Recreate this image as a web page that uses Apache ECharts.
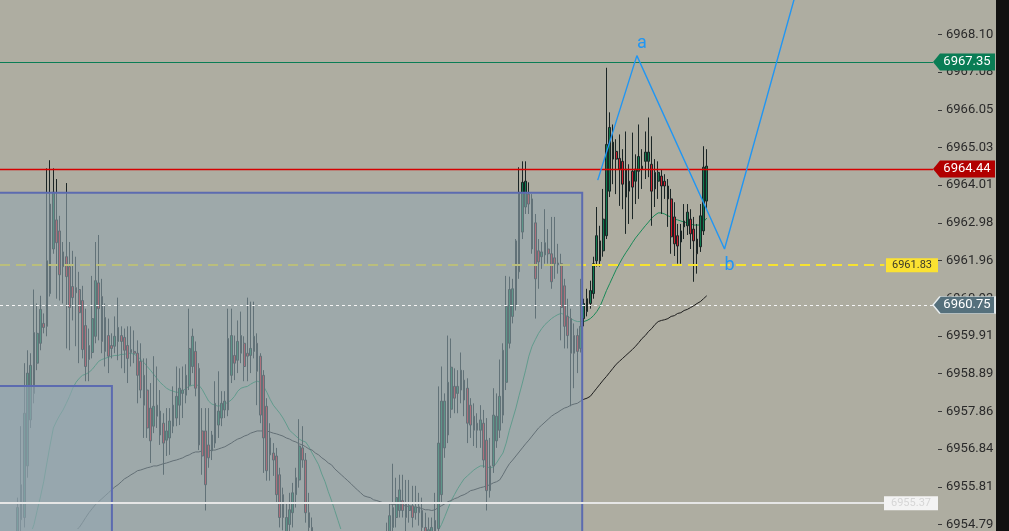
<!DOCTYPE html>
<html>
<head>
<meta charset="utf-8">
<title>Chart</title>
<script src="https://cdn.jsdelivr.net/npm/echarts@6.0.0/dist/echarts.min.js"></script>
<style>
html,body{margin:0;padding:0;background:#aeada1;overflow:hidden;}
#chart{width:1009px;height:531px;}
</style>
</head>
<body>
<div id="chart"></div>
<script>
const firstBar = 5;
const barCount = 290;
const opens = [
6953.90,6954.92,6954.98,6956.38,6957.63,6958.35,6959.17,6959.71,6960.25,6960.17,
6961.06,6962.27,6963.06,6962.76,6962.19,6962.06,6961.79,6961.25,6961.08,6961.17,
6960.87,6960.19,6959.65,6959.46,6959.90,6961.35,6960.98,6960.41,6959.92,6959.65,
6959.63,6959.76,6959.92,6959.87,6959.65,6959.46,6959.49,6959.44,6959.22,6958.84,
6958.44,6957.95,6957.46,6958.03,6957.87,6957.54,6957.08,6957.14,6957.46,6957.68,
6958.03,6958.35,6958.30,6958.57,6959.08,6959.49,6959.03,6957.33,6957.33,6956.95,
6956.79,6957.00,6957.49,6957.68,6957.90,6957.90,6958.84,6959.38,6959.25,6959.44,
6959.71,6959.44,6959.38,6959.49,6959.71,6959.36,6958.84,6958.00,6957.14,6956.73,
6956.65,6956.14,6955.60,6954.57,6954.79,6955.11,6955.60,6956.00,6956.87,6956.54,
6955.11,6954.71,6953.90,6953.57,6953.35,6953.62,6953.22,6953.49,6953.14,6953.57,
6953.84,6953.49,6953.76,6954.03,6953.68,6954.03,6954.22,6953.90,6954.17,6954.30,
6954.03,6954.30,6954.44,6954.17,6953.90,6954.44,6954.71,6954.98,6955.17,6955.44,
6955.38,6955.17,6955.30,6955.11,6955.27,6955.17,6954.71,6954.30,6954.30,6954.57,
6954.68,6955.60,6956.87,6957.22,6957.92,6958.54,6958.35,6958.44,6958.71,6958.49,
6958.03,6957.73,6957.54,6957.35,6957.54,6957.08,6955.71,6956.38,6957.06,6957.35,
6957.76,6958.65,6959.71,6960.44,6960.73,6961.65,6962.73,6963.41,6963.76,6963.63,
6962.98,6962.22,6962.06,6962.11,6962.27,6962.14,6962.03,6961.84,6961.87,6961.27,
6960.44,6960.38,6959.92,6959.92,6959.57,6960.38,6960.57,6960.79,6961.06,6961.95,
6961.95,6962.22,6962.63,6963.84,6964.71,6964.92,6964.73,6964.65,6964.44,6964.11,
6964.38,6964.11,6964.38,6964.52,6964.65,6964.65,6964.57,6964.35,6964.11,6964.25,
6964.11,6963.98,6963.63,6963.14,6962.63,6962.46,6962.87,6962.90,6963.08,6962.81,
6962.54,6962.33,6962.76,6963.57];
const closes = [
6955.25,6955.87,6957.81,6958.90,6959.11,6960.00,6959.98,6960.63,6960.14,6961.95,
6963.49,6963.81,6962.44,6961.57,6961.79,6961.52,6960.68,6960.95,6961.22,6960.54,
6959.54,6959.08,6959.27,6960.38,6961.41,6960.65,6959.76,6959.49,6959.36,6959.57,
6959.90,6960.14,6959.76,6959.52,6959.30,6959.54,6959.44,6958.84,6958.44,6958.03,
6957.41,6957.06,6958.00,6957.73,6957.22,6957.00,6957.33,6957.60,6958.03,6958.27,
6958.49,6958.44,6958.84,6959.57,6959.90,6958.49,6956.95,6956.65,6955.87,6956.60,
6957.22,6958.08,6957.87,6958.08,6958.14,6959.84,6959.92,6959.17,6959.76,6959.92,
6959.08,6959.36,6959.57,6959.90,6958.95,6957.76,6957.14,6956.25,6956.68,6956.54,
6955.60,6954.98,6954.98,6954.98,6955.19,6955.65,6956.06,6956.92,6956.54,6955.11,
6954.71,6953.90,6953.57,6953.35,6953.62,6953.22,6953.49,6953.14,6953.57,6953.84,
6953.49,6953.76,6954.03,6953.68,6954.03,6954.22,6953.90,6954.17,6954.30,6954.03,
6954.30,6954.44,6954.17,6954.38,6954.57,6955.03,6955.25,6955.52,6955.73,6955.17,
6954.98,6955.30,6954.98,6955.27,6955.11,6954.71,6954.30,6954.65,6954.71,6954.90,
6957.00,6958.14,6958.14,6958.65,6959.06,6958.22,6958.54,6958.98,6958.17,6957.54,
6957.49,6957.35,6957.35,6957.63,6956.54,6955.71,6956.38,6957.76,6957.73,6958.27,
6959.52,6960.71,6961.17,6961.19,6962.49,6963.81,6964.08,6964.11,6963.49,6962.27,
6961.46,6961.92,6962.19,6962.44,6962.14,6961.38,6961.87,6961.89,6960.68,6960.17,
6959.92,6959.44,6959.44,6959.49,6960.17,6960.79,6960.92,6961.14,6961.87,6962.63,
6962.49,6963.08,6965.11,6965.57,6965.17,6964.71,6964.44,6964.03,6963.68,6963.84,
6963.95,6964.44,6964.78,6964.44,6964.90,6964.90,6963.84,6963.90,6964.35,6963.98,
6963.98,6963.63,6962.60,6962.41,6962.35,6962.76,6963.03,6963.27,6962.68,6962.49,
6962.14,6963.17,6964.49,6964.52];
const lows = [
6953.62,6954.44,6954.71,6956.06,6957.41,6958.08,6958.98,6959.52,6959.98,6959.90,
6960.98,6962.14,6960.92,6960.87,6960.79,6959.57,6959.52,6960.33,6959.63,6959.17,
6959.30,6958.68,6958.68,6959.30,6959.71,6959.79,6959.44,6959.08,6958.90,6959.30,
6959.44,6959.25,6959.03,6958.90,6958.63,6959.08,6959.17,6958.08,6958.22,6957.14,
6957.14,6956.46,6957.27,6957.41,6956.95,6956.14,6956.65,6956.68,6957.27,6957.46,
6957.49,6957.68,6958.08,6958.44,6958.90,6958.27,6956.81,6956.14,6955.17,6956.33,
6956.54,6956.87,6957.14,6957.46,6957.68,6957.73,6958.63,6958.71,6958.90,6959.17,
6958.68,6958.68,6958.90,6959.30,6958.03,6957.54,6956.19,6955.98,6955.98,6956.11,
6955.38,6954.71,6954.63,6954.30,6954.44,6954.71,6955.25,6955.79,6956.33,6954.84,
6954.30,6953.62,6953.35,6953.08,6953.14,6952.95,6953.03,6952.87,6952.95,6953.35,
6953.22,6953.30,6953.57,6953.41,6953.49,6953.84,6953.68,6953.73,6953.95,6953.84,
6953.90,6954.11,6954.00,6954.00,6953.62,6954.17,6954.44,6954.71,6954.98,6954.98,
6954.57,6954.84,6954.71,6954.92,6954.76,6954.44,6954.03,6954.03,6954.11,6954.44,
6954.44,6955.38,6956.60,6957.00,6957.68,6957.81,6957.81,6958.08,6957.73,6957.00,
6957.14,6956.92,6956.87,6956.87,6956.33,6955.17,6955.52,6956.19,6956.87,6957.14,
6957.54,6958.44,6959.57,6960.25,6960.60,6961.46,6962.54,6963.22,6963.22,6962.14,
6960.38,6961.19,6961.73,6961.87,6961.87,6961.19,6961.46,6961.60,6959.79,6959.57,
6959.57,6958.00,6958.49,6958.90,6959.46,6960.17,6960.44,6960.65,6960.92,6961.79,
6961.79,6962.06,6962.54,6963.68,6964.03,6963.76,6963.44,6963.35,6962.68,6962.95,
6963.08,6963.49,6963.63,6963.90,6964.17,6964.22,6962.90,6963.41,6963.63,6963.22,
6963.63,6962.87,6962.14,6962.08,6961.87,6961.87,6962.54,6962.65,6962.27,6961.38,
6961.60,6962.19,6962.65,6963.35];
const highs = [
6955.52,6957.46,6959.17,6959.52,6959.44,6961.17,6960.79,6961.00,6960.52,6964.46,
6964.68,6964.46,6964.17,6963.17,6962.46,6964.06,6962.46,6962.22,6962.06,6961.65,
6961.27,6960.65,6960.11,6961.54,6962.46,6962.65,6961.46,6960.79,6960.38,6959.98,
6960.44,6960.95,6960.17,6960.11,6960.17,6960.17,6960.06,6959.79,6959.71,6959.30,
6959.30,6958.63,6959.36,6959.08,6958.44,6957.81,6957.95,6957.95,6958.54,6959.08,
6959.03,6959.08,6959.14,6960.65,6960.11,6959.76,6959.17,6957.95,6957.95,6957.95,
6957.33,6958.68,6958.95,6958.41,6958.41,6960.65,6960.65,6959.92,6960.33,6960.57,
6959.90,6960.95,6960.84,6960.84,6959.98,6959.44,6958.98,6958.22,6957.54,6957.00,
6956.87,6956.33,6955.79,6955.38,6955.65,6955.92,6956.33,6957.65,6957.46,6956.73,
6955.65,6954.98,6954.30,6953.84,6953.90,6953.76,6953.68,6953.62,6953.76,6954.03,
6954.03,6953.95,6954.22,6954.17,6954.30,6954.44,6954.38,6954.44,6954.54,6954.49,
6954.57,6954.63,6954.60,6954.65,6954.84,6955.38,6956.44,6956.06,6956.14,6956.14,
6956.00,6956.00,6955.84,6955.84,6955.65,6955.52,6955.11,6954.98,6954.98,6955.65,
6958.54,6959.08,6958.35,6959.92,6959.84,6959.03,6958.98,6959.46,6958.98,6958.76,
6958.22,6958.08,6957.81,6958.03,6957.90,6957.68,6957.14,6958.49,6958.35,6959.27,
6959.71,6961.54,6961.52,6961.46,6962.54,6964.49,6964.65,6964.65,6964.08,6963.76,
6963.22,6962.54,6962.46,6963.35,6962.81,6963.14,6963.14,6962.41,6962.14,6961.46,
6960.92,6960.65,6960.25,6960.11,6961.46,6960.92,6961.19,6961.41,6962.06,6963.41,
6962.90,6963.90,6967.19,6965.98,6965.65,6965.25,6965.38,6964.98,6965.46,6964.57,
6965.43,6964.84,6965.65,6964.98,6965.46,6965.84,6965.33,6964.71,6964.65,6964.44,
6964.30,6964.17,6963.90,6963.54,6962.95,6962.95,6963.49,6963.49,6963.35,6963.14,
6962.95,6963.49,6965.06,6964.98];
const maFast = [
6951.73,6952.14,6952.54,6952.95,6953.35,6953.68,6953.98,6954.19,6954.38,6954.54,
6954.79,6955.17,6955.54,6955.95,6956.46,6956.95,6957.41,6957.60,6957.76,6957.90,
6958.08,6958.27,6958.49,6958.65,6958.76,6958.84,6958.87,6958.92,6959.00,6959.11,
6959.22,6959.27,6959.30,6959.33,6959.36,6959.38,6959.38,6959.41,6959.41,6959.44,
6959.44,6959.41,6959.36,6959.27,6959.19,6959.08,6958.98,6958.87,6958.76,6958.65,
6958.57,6958.49,6958.44,6958.41,6958.38,6958.38,6958.41,6958.49,6958.54,6958.57,
6958.57,6958.57,6958.46,6958.30,6958.14,6958.06,6958.03,6958.00,6958.03,6958.06,
6958.11,6958.17,6958.27,6958.41,6958.49,6958.52,6958.54,6958.60,6958.65,6958.68,
6958.65,6958.54,6958.38,6958.19,6958.03,6957.92,6957.81,6957.68,6957.52,6957.35,
6957.27,6957.19,6957.11,6957.06,6957.03,6956.90,6956.73,6956.57,6956.41,6956.16,
6955.95,6955.68,6955.44,6955.17,6954.90,6954.63,6954.44,6954.27,6954.14,6954.03,
6953.95,6953.87,6953.81,6953.76,6953.71,6953.68,6953.65,6953.62,6953.62,6953.62,
6953.65,6953.68,6953.71,6953.76,6953.81,6953.87,6953.92,6953.98,6954.03,6954.08,
6954.17,6954.25,6954.35,6954.44,6954.52,6954.63,6954.79,6955.00,6955.22,6955.44,
6955.60,6955.76,6955.90,6956.03,6956.11,6956.19,6956.27,6956.33,6956.38,6956.38,
6956.35,6956.33,6956.35,6956.46,6956.60,6956.73,6957.00,6957.35,6957.65,6957.95,
6958.30,6958.63,6958.98,6959.36,6959.63,6959.81,6959.98,6960.11,6960.22,6960.30,
6960.38,6960.44,6960.49,6960.52,6960.49,6960.44,6960.38,6960.33,6960.30,6960.30,
6960.30,6960.33,6960.38,6960.46,6960.57,6960.71,6960.92,6961.14,6961.33,6961.52,
6961.71,6961.87,6962.03,6962.17,6962.30,6962.44,6962.57,6962.68,6962.79,6962.90,
6963.00,6963.11,6963.19,6963.25,6963.25,6963.22,6963.17,6963.14,6963.08,6963.06,
6963.03,6963.00,6962.98,6962.95,6962.92,6962.92,6962.92,6963.00,6963.11];
const maSlow = [
6952.14,6952.25,6952.36,6952.46,6952.57,6952.68,6952.79,6952.90,6953.00,6953.11,
6953.22,6953.33,6953.44,6953.54,6953.65,6953.76,6953.87,6953.98,6954.08,6954.19,
6954.30,6954.41,6954.52,6954.63,6954.71,6954.84,6954.98,6955.11,6955.22,6955.33,
6955.41,6955.49,6955.57,6955.65,6955.73,6955.81,6955.87,6955.95,6956.03,6956.08,
6956.14,6956.19,6956.25,6956.27,6956.30,6956.33,6956.35,6956.38,6956.38,6956.41,
6956.44,6956.46,6956.49,6956.52,6956.54,6956.57,6956.60,6956.65,6956.68,6956.73,
6956.76,6956.76,6956.79,6956.79,6956.79,6956.81,6956.81,6956.84,6956.87,6956.90,
6956.95,6957.00,6957.06,6957.11,6957.14,6957.19,6957.22,6957.27,6957.30,6957.33,
6957.33,6957.33,6957.33,6957.30,6957.27,6957.25,6957.22,6957.19,6957.14,6957.11,
6957.06,6957.03,6956.98,6956.95,6956.90,6956.84,6956.81,6956.73,6956.68,6956.60,
6956.54,6956.46,6956.41,6956.30,6956.22,6956.14,6956.06,6955.98,6955.90,6955.81,
6955.73,6955.65,6955.57,6955.54,6955.52,6955.46,6955.44,6955.41,6955.38,6955.38,
6955.35,6955.33,6955.33,6955.30,6955.30,6955.30,6955.27,6955.27,6955.25,6955.25,
6955.22,6955.19,6955.19,6955.17,6955.19,6955.25,6955.30,6955.35,6955.41,6955.44,
6955.49,6955.52,6955.57,6955.60,6955.65,6955.71,6955.73,6955.76,6955.79,6955.81,
6955.84,6955.87,6955.92,6955.95,6956.00,6956.14,6956.30,6956.44,6956.54,6956.65,
6956.76,6956.87,6956.98,6957.08,6957.19,6957.30,6957.41,6957.49,6957.57,6957.65,
6957.73,6957.79,6957.84,6957.90,6957.95,6957.98,6958.03,6958.06,6958.08,6958.14,
6958.19,6958.22,6958.27,6958.38,6958.49,6958.60,6958.71,6958.81,6958.92,6959.03,
6959.14,6959.22,6959.30,6959.38,6959.46,6959.54,6959.63,6959.73,6959.84,6959.92,
6960.03,6960.11,6960.22,6960.30,6960.33,6960.35,6960.38,6960.44,6960.46,6960.52,
6960.54,6960.60,6960.63,6960.68,6960.73,6960.79,6960.84,6960.92,6961.00];
const priceTicks = [6968.10,6967.08,6966.05,6965.03,6964.01,6962.98,6961.96,6960.93,6959.91,6958.89,6957.86,6956.84,6955.81,6954.79];
const priceMin = 6954.68;
const priceMax = 6969.03;
const zoneStartBars = [-3, -3];
const zoneEndBars = [180.0, 34.6];
const zoneTops = [6963.80, 6958.55];
const zoneFloor = 6953.0;
const levelGreen = 6967.35;
const levelRed = 6964.44;
const levelYellow = 6961.83;
const levelSlate = 6960.75;
const levelWhite = 6955.37;
const waveBars = [184.8, 196.9, 224.0, 250.0];
const wavePrices = [6964.14, 6967.52, 6962.27, 6970.46];
const waveNames = ['', 'a', 'b', ''];

const categories = [];
for (let i = 0; i < barCount; i++) categories.push(String(i));
const candleData = [];
for (let i = 0; i < firstBar + opens.length; i++) {
  const k = i - firstBar;
  candleData.push(k < 0 ? '-' : [opens[k], closes[k], lows[k], highs[k]]);
}
const lineEnd = 288.45;
const boxEnd = 273.4;
const tagPath = 'path://M0,8.5L7,0L62,0L62,17L7,17Z';
const font = 'Roboto, "DejaVu Sans", sans-serif';

function levelLine(v, end, style) {
  return [{coord: [0, v], lineStyle: style}, {coord: [end, v], lineStyle: style}];
}
function arrowTag(v, fill, border) {
  return {
    coord: [barCount, v], symbol: tagPath, symbolSize: [62, 17], symbolOffset: [26, 0],
    itemStyle: {color: fill, borderColor: border || fill, borderWidth: border ? 1 : 0},
    label: {show: true, position: 'inside', formatter: v.toFixed(2), color: '#ffffff', fontSize: 13, fontFamily: font, offset: [3, 0]}
  };
}
function boxTag(v, fill, textColor, w) {
  return {
    coord: [barCount, v], symbol: 'rect', symbolSize: [w, 14], symbolOffset: [-w / 2, 0],
    itemStyle: {color: fill},
    label: {show: true, position: 'inside', formatter: v.toFixed(2), color: textColor, fontSize: 11, fontFamily: font}
  };
}

const chart = echarts.init(document.getElementById('chart'), null, {renderer: 'canvas'});
chart.setOption({
  animation: false,
  backgroundColor: '#aeada1',
  grid: {left: 0, right: 71, top: 0, bottom: 0},
  xAxis: [
    {type: 'category', data: categories, show: false, boundaryGap: true},
    {type: 'value', min: 0, max: barCount, show: false}
  ],
  yAxis: {
    type: 'value', position: 'right', min: priceMin, max: priceMax,
    axisLine: {show: false, onZero: false},
    splitLine: {show: false},
    axisTick: {show: true, length: 4, customValues: priceTicks, lineStyle: {color: '#3a3a3a'}},
    axisLabel: {show: true, customValues: priceTicks, margin: 8, color: '#2a2a2a', fontSize: 13, fontFamily: font,
      formatter: v => Number(v).toFixed(2)}
  },
  graphic: [{type: 'rect', right: 0, top: 0, shape: {width: 13, height: 531}, style: {fill: '#111111'}, z: 100}],
  series: [
    {
      type: 'candlestick', xAxisIndex: 0, yAxisIndex: 0, data: candleData, z: 2, silent: true,
      barWidth: 2.2, clip: true,
      itemStyle: {color: '#0f7a4f', color0: '#d11f2e', borderColor: '#1b2525', borderColor0: '#1b2525', borderWidth: 1}
    },
    {type: 'line', xAxisIndex: 0, data: maFast, symbol: 'none', z: 2, silent: true,
      lineStyle: {color: '#1a8a58', width: 1}},
    {type: 'line', xAxisIndex: 0, data: maSlow, symbol: 'none', z: 2, silent: true,
      lineStyle: {color: '#1e1e1e', width: 1}},
    {
      type: 'line', xAxisIndex: 1, data: [], silent: true,
      markLine: {z: 3, silent: true, symbol: ['none', 'none'], label: {show: false},
        data: [levelLine(levelYellow, boxEnd, {color: '#f6e231', width: 2, type: [10, 6]})]}
    },
    {
      type: 'custom', xAxisIndex: 1, yAxisIndex: 0, z: 4, silent: true,
      data: zoneTops.map((t, i) => [zoneStartBars[i], zoneEndBars[i], t, zoneFloor]),
      renderItem: function (params, api) {
        const p0 = api.coord([api.value(0), api.value(2)]);
        const p1 = api.coord([api.value(1), api.value(3)]);
        return {type: 'rect', shape: {x: p0[0], y: p0[1], width: p1[0] - p0[0], height: p1[1] - p0[1]},
          style: {fill: 'rgba(147,166,177,0.6)', stroke: '#5c6bb0', lineWidth: 2}};
      }
    },
    {
      type: 'line', xAxisIndex: 1, data: [], silent: true,
      markLine: {z: 5, silent: true, symbol: ['none', 'none'], label: {show: false},
        data: [
          levelLine(levelGreen, lineEnd, {color: '#0a7d55', width: 1.2, type: 'solid'}),
          levelLine(levelRed, lineEnd, {color: '#d60000', width: 1.3, type: 'solid'}),
          levelLine(levelSlate, lineEnd, {color: '#f4f4f4', width: 1, type: [3, 3]}),
          levelLine(levelWhite, boxEnd, {color: '#e6e6e6', width: 2, type: 'solid'})
        ]}
    },
    {
      type: 'line', xAxisIndex: 1, z: 5, silent: true, symbol: 'none', clip: true,
      data: waveBars.map((b, i) => [b, wavePrices[i]]),
      lineStyle: {color: '#2196f3', width: 1.4},
      markPoint: {z: 6, silent: true,
        data: waveBars.map((b, i) => ({name: waveNames[i], coord: [b, wavePrices[i]]}))
          .filter(d => d.name !== '')
          .map(d => ({coord: d.coord, symbol: 'circle', symbolSize: 1, itemStyle: {color: 'rgba(0,0,0,0)'},
            label: {show: true, position: 'inside', formatter: d.name, color: '#2196f3', fontSize: 18, fontFamily: font,
              offset: d.name === 'a' ? [5, -12] : [5, 17]}}))}
    },
    {
      type: 'line', xAxisIndex: 1, data: [], silent: true,
      markPoint: {z: 7, silent: true,
        data: [
          arrowTag(levelGreen, '#0a7d55'),
          arrowTag(levelRed, '#b20000'),
          arrowTag(levelSlate, '#55707c', '#e8eef0'),
          boxTag(levelYellow, '#fbe232', '#3a3a2a', 52),
          boxTag(levelWhite, '#f3f3f3', '#d6d6d6', 54)
        ]}
    }
  ]
});
</script>
</body>
</html>
